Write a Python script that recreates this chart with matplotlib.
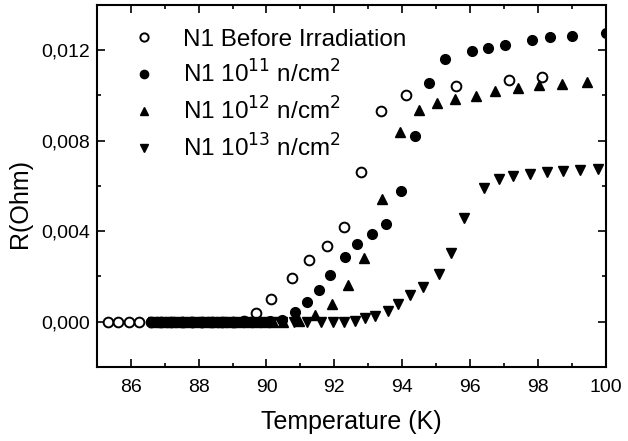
import numpy as np
import matplotlib.pyplot as plt
from matplotlib.ticker import MultipleLocator, FuncFormatter

plt.rcParams['font.family'] = ['Liberation Sans', 'DejaVu Sans']

# N1 before irradiation (open circles)
t_before = [85.32, 85.63, 85.95, 86.25, 86.6, 86.9, 87.2, 87.5, 87.8, 88.1, 88.4,
            88.7, 89.0, 89.35, 89.68, 90.14, 90.75, 91.26, 91.77, 92.29, 92.79,
            93.37, 94.1, 95.58, 97.13, 98.1]
r_before = [0.0, 0.0, 0.0, -0.00002, 0.0, 0.0, 0.0, 0.0, 0.0, 0.0, 0.0,
            0.0, 0.0, 0.00005, 0.00038, 0.00102, 0.00193, 0.00274, 0.00335, 0.0042, 0.0066,
            0.00929, 0.0100, 0.0104, 0.01067, 0.0108]

# N1 1e11 n/cm2 (filled circles)
t_e11 = [86.6, 86.85, 87.1, 87.35, 87.6, 87.85, 88.1, 88.35, 88.6, 88.85, 89.1,
         89.35, 89.6, 89.85, 90.1, 90.45, 90.84, 91.19, 91.54, 91.88, 92.32, 92.68,
         93.1, 93.52, 93.95, 94.38, 94.78, 95.25, 96.04, 96.52, 97.02, 97.81,
         98.34, 99.01, 99.99]
r_e11 = [0.0, 0.0, 0.0, 0.0, 0.0, 0.0, 0.0, 0.0, 0.0, 0.0, 0.0,
         0.0, 0.0, 0.0, 0.00002, 0.00008, 0.00043, 0.00085, 0.0014, 0.00207, 0.00284, 0.00343,
         0.00388, 0.00432, 0.00577, 0.0082, 0.01054, 0.0116, 0.01194, 0.01209, 0.01222, 0.01244,
         0.01257, 0.01263, 0.01276]

# N1 1e12 n/cm2 (up triangles)
t_e12 = [86.7, 86.95, 87.2, 87.45, 87.7, 87.95, 88.2, 88.45, 88.7, 88.95, 89.2,
         89.45, 89.7, 89.95, 90.2, 90.5, 90.95, 91.43, 91.93, 92.4, 92.88, 93.4,
         93.94, 94.49, 95.01, 95.55, 96.16, 96.74, 97.41, 98.04, 98.71, 99.44]
r_e12 = [0.0, 0.0, 0.0, 0.0, 0.0, 0.0, 0.0, 0.0, 0.0, 0.0, 0.0,
         0.0, 0.0, 0.0, 0.0, 0.0, 0.00005, 0.0003, 0.0008, 0.00163, 0.0028, 0.00544,
         0.0084, 0.00936, 0.00966, 0.00985, 0.00998, 0.01018, 0.01032, 0.01046, 0.01052, 0.01061]

# N1 1e13 n/cm2 (down triangles)
t_e13 = [86.65, 86.9, 87.15, 87.4, 87.65, 87.9, 88.15, 88.4, 88.65, 88.9, 89.15,
         89.4, 89.65, 89.9, 90.15, 90.45, 90.8, 91.2, 91.6, 91.95, 92.29, 92.61,
         92.89, 93.19, 93.57, 93.86, 94.24, 94.61, 95.07, 95.43, 95.83, 96.4,
         96.86, 97.25, 97.75, 98.25, 98.74, 99.22, 99.75]
r_e13 = [0.0, 0.0, 0.0, 0.0, 0.0, 0.0, 0.0, 0.0, 0.0, 0.0, 0.0,
         0.0, 0.0, 0.0, 0.0, 0.0, 0.0, 0.0, 0.0, 0.0, 0.0, 0.00003,
         0.00015, 0.00026, 0.00045, 0.00076, 0.00117, 0.00155, 0.00211, 0.00305, 0.0046, 0.00592,
         0.00629, 0.00643, 0.00652, 0.00661, 0.00665, 0.0067, 0.00674]

fig = plt.figure(figsize=(6.28, 4.41), dpi=100)
ax = fig.add_axes([0.154, 0.168, 0.811, 0.821])

ms = 7
ax.plot(t_before, r_before, 'o', mfc='white', mec='black', mew=1.4, ms=ms,
        label='N1 Before Irradiation')
ax.plot(t_e11, r_e11, 'o', color='black', ms=ms, label='N1 10$^{11}$ n/cm$^2$')
ax.plot(t_e12, r_e12, '^', color='black', ms=ms, label='N1 10$^{12}$ n/cm$^2$')
ax.plot(t_e13, r_e13, 'v', color='black', ms=ms, label='N1 10$^{13}$ n/cm$^2$')

ax.set_xlim(85, 100)
ax.set_ylim(-0.002, 0.014)
ax.xaxis.set_major_locator(MultipleLocator(2))
ax.xaxis.set_minor_locator(MultipleLocator(1))
ax.yaxis.set_major_locator(MultipleLocator(0.004))
ax.yaxis.set_minor_locator(MultipleLocator(0.002))
ax.yaxis.set_major_formatter(FuncFormatter(lambda v, p: f'{v:.3f}'.replace('.', ',').replace('-0,000', '0,000')))
ax.set_yticks([0, 0.004, 0.008, 0.012])

ax.tick_params(which='both', direction='in', top=True, right=True, width=1.2)
ax.tick_params(which='major', length=6, labelsize=14)
ax.tick_params(axis='x', which='major', pad=9)
ax.tick_params(axis='y', which='major', pad=5)
ax.tick_params(which='minor', length=3)
for s in ax.spines.values():
    s.set_linewidth(1.5)

ax.set_xlabel('Temperature (K)', fontsize=18, labelpad=10)
ax.set_ylabel('R(Ohm)', fontsize=18)
ax.yaxis.set_label_coords(-0.128, 0.45)

ax.legend(loc='upper left', frameon=False, fontsize=17.5, handletextpad=0.6,
          borderaxespad=0.5, labelspacing=0.4, markerscale=0.85,
          bbox_to_anchor=(0.003, 0.995))

fig.savefig('out.png', dpi=100)
